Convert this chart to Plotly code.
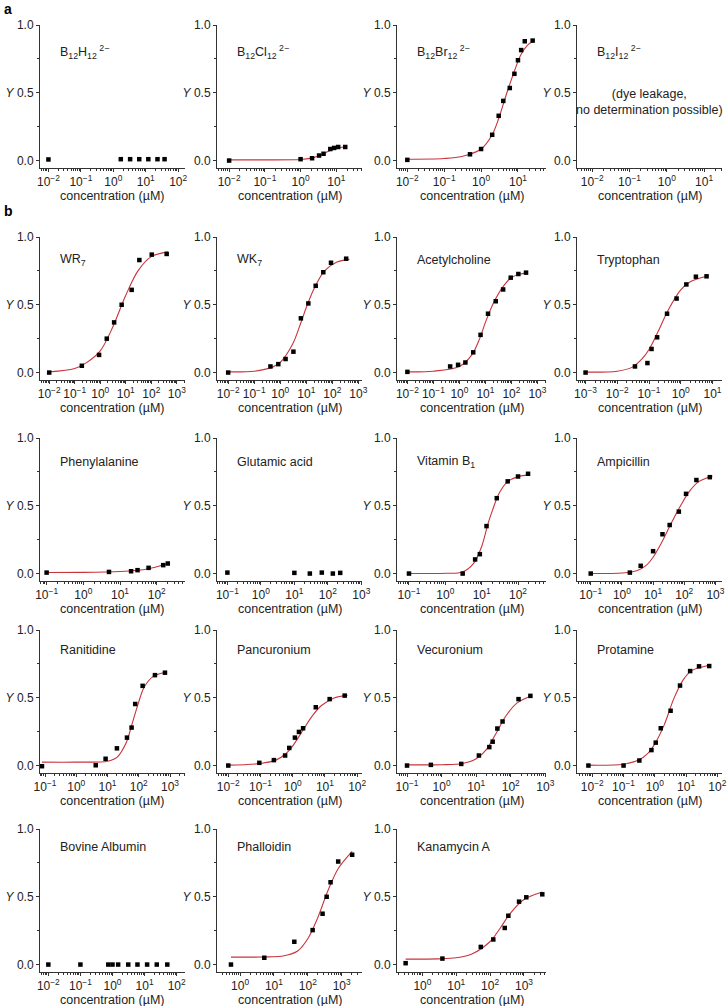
import plotly.graph_objects as go

# ---------------- data ----------------
b12h12_x = [0.01, 1.7, 3.3, 6.3, 12, 23, 38]
b12h12_y = [0.008, 0.01, 0.01, 0.01, 0.01, 0.01, 0.01]

b12cl12_x = [0.01, 1.0, 2.1, 3.3, 4.4, 6.8, 8.7, 11.3, 17.8]
b12cl12_y = [0.0, 0.01, 0.017, 0.037, 0.05, 0.085, 0.093, 0.10, 0.10]
b12cl12_fit_x = [0.01, 0.1, 1, 2, 3, 4, 6, 8, 12, 18]
b12cl12_fit_y = [0.005, 0.005, 0.008, 0.018, 0.032, 0.045, 0.068, 0.082, 0.095, 0.1]

b12br12_x = [0.01, 0.5, 1.0, 2.0, 3.0, 4.0, 6.0, 8.0, 10, 12.2, 15.3, 25]
b12br12_y = [0.005, 0.046, 0.085, 0.19, 0.33, 0.44, 0.535, 0.64, 0.74, 0.815, 0.88, 0.885]
b12br12_fit_x = [0.01, 0.1, 0.3, 1, 2, 3, 5, 8, 12, 18, 28]
b12br12_fit_y = [0.01, 0.015, 0.03, 0.085, 0.19, 0.31, 0.5, 0.66, 0.78, 0.85, 0.885]

wr7_x = [0.01, 0.19, 0.9, 1.8, 3.5, 6.9, 17, 34, 104, 400]
wr7_y = [0.0, 0.05, 0.13, 0.25, 0.37, 0.50, 0.61, 0.83, 0.87, 0.875]
wr7_fit_x = [0.01, 0.1, 0.3, 1, 3, 10, 30, 100, 450]
wr7_fit_y = [0.005, 0.03, 0.075, 0.16, 0.33, 0.57, 0.75, 0.855, 0.89]

wk7_x = [0.01, 0.42, 0.84, 1.6, 3.2, 6.2, 12, 23, 45, 89, 340]
wk7_y = [0.0, 0.045, 0.062, 0.10, 0.154, 0.40, 0.51, 0.64, 0.74, 0.81, 0.84]
wk7_fit_x = [0.01, 0.1, 0.5, 1, 3, 6, 10, 20, 50, 150, 450]
wk7_fit_y = [0.005, 0.01, 0.04, 0.075, 0.21, 0.36, 0.48, 0.62, 0.75, 0.815, 0.835]

ach_x = [0.01, 0.44, 0.89, 1.7, 3.4, 6.5, 12.6, 25, 48, 94, 185, 365]
ach_y = [0.005, 0.045, 0.057, 0.074, 0.149, 0.278, 0.434, 0.526, 0.613, 0.70, 0.727, 0.737]
ach_fit_x = [0.01, 0.1, 1, 3, 6, 10, 20, 50, 100, 200, 400]
ach_fit_y = [0.005, 0.01, 0.045, 0.13, 0.25, 0.37, 0.51, 0.64, 0.70, 0.725, 0.735]

trp_x = [0.001, 0.036, 0.089, 0.12, 0.18, 0.37, 0.74, 1.5, 3.0, 6.5]
trp_y = [0.0, 0.045, 0.07, 0.174, 0.26, 0.434, 0.546, 0.65, 0.707, 0.71]
trp_fit_x = [0.001, 0.01, 0.03, 0.06, 0.1, 0.2, 0.4, 1, 2, 6.5]
trp_fit_y = [0.003, 0.01, 0.04, 0.1, 0.17, 0.31, 0.46, 0.61, 0.67, 0.71]

phe_x = [0.1, 5, 20, 30, 60, 150, 200]
phe_y = [0.007, 0.012, 0.017, 0.025, 0.042, 0.062, 0.074]
phe_fit_x = [0.1, 1, 10, 30, 60, 100, 200]
phe_fit_y = [0.008, 0.009, 0.015, 0.024, 0.036, 0.05, 0.072]

glu_x = [0.1, 10, 29, 66, 141, 234]
glu_y = [0.007, 0.005, 0.0, 0.007, 0.0, 0.005]

vb1_x = [0.1, 3, 6.6, 8.9, 13.6, 26, 52, 100, 189]
vb1_y = [0.0, 0.0, 0.104, 0.143, 0.35, 0.556, 0.68, 0.716, 0.736]
vb1_fit_x = [0.1, 1, 3, 6, 10, 15, 20, 30, 50, 100, 200]
vb1_fit_y = [0.0, 0.002, 0.012, 0.075, 0.2, 0.37, 0.47, 0.59, 0.675, 0.715, 0.728]

amp_x = [0.1, 1.8, 4.0, 10, 20, 34, 67, 114, 245, 660]
amp_y = [0.0, 0.007, 0.057, 0.165, 0.29, 0.358, 0.457, 0.588, 0.69, 0.711]
amp_fit_x = [0.1, 1, 3, 6, 10, 20, 40, 80, 150, 300, 800]
amp_fit_y = [0.0, 0.004, 0.02, 0.06, 0.12, 0.24, 0.38, 0.51, 0.61, 0.68, 0.72]

ran_x = [0.08, 4.2, 8.7, 20, 42, 59, 77, 133, 330, 690]
ran_y = [-0.005, 0.002, 0.05, 0.127, 0.206, 0.28, 0.454, 0.588, 0.667, 0.685]
ran_fit_x = [0.08, 1, 10, 20, 40, 60, 100, 150, 300, 700]
ran_fit_y = [0.025, 0.025, 0.032, 0.06, 0.17, 0.3, 0.47, 0.58, 0.66, 0.687]

pan_x = [0.01, 0.092, 0.26, 0.58, 0.78, 1.17, 1.56, 2.1, 5.2, 14, 41]
pan_y = [0.0, 0.02, 0.04, 0.074, 0.13, 0.206, 0.248, 0.275, 0.43, 0.49, 0.516]
pan_fit_x = [0.01, 0.1, 0.3, 0.6, 1, 2, 4, 8, 20, 50]
pan_fit_y = [0.003, 0.015, 0.04, 0.085, 0.145, 0.255, 0.365, 0.445, 0.5, 0.518]

vec_x = [0.1, 0.49, 3.7, 12, 24, 30, 41, 58, 168, 370]
vec_y = [0.0, 0.005, 0.012, 0.074, 0.136, 0.176, 0.273, 0.325, 0.49, 0.514]
vec_fit_x = [0.1, 1, 4, 10, 20, 40, 70, 150, 400]
vec_fit_y = [0.005, 0.006, 0.015, 0.05, 0.12, 0.25, 0.36, 0.46, 0.515]

prot_x = [0.0075, 0.1, 0.32, 0.78, 1.07, 1.55, 3.2, 6.4, 13.5, 26, 55]
prot_y = [0.0, 0.0, 0.037, 0.114, 0.169, 0.275, 0.404, 0.59, 0.697, 0.732, 0.734]
prot_fit_x = [0.0075, 0.1, 0.3, 0.6, 1, 2, 4, 8, 15, 55]
prot_fit_y = [0.003, 0.01, 0.04, 0.09, 0.16, 0.3, 0.49, 0.63, 0.7, 0.74]

bsa_x = [0.01, 0.1, 0.74, 1.0, 1.5, 3.1, 6.0, 12, 24, 51]
bsa_y = [0.0, 0.0, 0.0, 0.0, 0.0, 0.0, 0.0, 0.0, 0.0, 0.0]

phal_x = [0.54, 5.2, 40, 139, 273, 360, 470, 790, 2040]
phal_y = [0.0, 0.05, 0.168, 0.254, 0.375, 0.50, 0.607, 0.76, 0.81]
phal_fit_x = [0.54, 5, 20, 50, 100, 200, 400, 800, 2040]
phal_fit_y = [0.055, 0.056, 0.065, 0.1, 0.19, 0.35, 0.55, 0.71, 0.835]

kan_x = [0.32, 3.9, 53, 124, 270, 345, 715, 1170, 3470]
kan_y = [0.01, 0.044, 0.13, 0.185, 0.27, 0.36, 0.464, 0.496, 0.518]
kan_fit_x = [0.32, 3, 10, 30, 100, 200, 400, 1000, 3500]
kan_fit_y = [0.04, 0.042, 0.05, 0.08, 0.17, 0.27, 0.38, 0.48, 0.535]

names = [
    "B<sub>12</sub>H<sub>12</sub><sup> 2−</sup>", "B<sub>12</sub>Cl<sub>12</sub><sup> 2−</sup>",
    "B<sub>12</sub>Br<sub>12</sub><sup> 2−</sup>", "B<sub>12</sub>I<sub>12</sub><sup> 2−</sup>",
    "WR<sub>7</sub>", "WK<sub>7</sub>", "Acetylcholine", "Tryptophan",
    "Phenylalanine", "Glutamic acid", "Vitamin B<sub>1</sub>", "Ampicillin",
    "Ranitidine", "Pancuronium", "Vecuronium", "Protamine",
    "Bovine Albumin", "Phalloidin", "Kanamycin A",
]
y_ticks = [0.0, 0.5, 1.0]
y_ticktext = ["0.0", "<i>Y</i> 0.5", "1.0"]
x_title = "concentration (µM)"
leak_note = "(dye leakage,<br>no determination possible)"

# ---------------- layout geometry ----------------
W, H = 727, 1006
col_px = [(40, 185), (217, 362), (397, 546), (577, 722)]
row_top = [25, 237, 438, 630, 829]
row_name_off = [27, 23, 24, 20, 18]
PH = 143
FONT = "Liberation Sans, Arial, sans-serif"
RED = "#c8343c"

# (name idx, row, col, points x, points y, fit x, fit y, xrange, exponents)
panels = [
    (0, 0, 0, b12h12_x, b12h12_y, None, None, [-2.26, 2.21], [-2, -1, 0, 1, 2]),
    (1, 0, 1, b12cl12_x, b12cl12_y, b12cl12_fit_x, b12cl12_fit_y, [-2.34, 1.72], [-2, -1, 0, 1]),
    (2, 0, 2, b12br12_x, b12br12_y, b12br12_fit_x, b12br12_fit_y, [-2.28, 1.76], [-2, -1, 0, 1]),
    (3, 0, 3, [], [], None, None, [-2.41, 1.48], [-2, -1, 0, 1]),
    (4, 1, 0, wr7_x, wr7_y, wr7_fit_x, wr7_fit_y, [-2.36, 3.32], [-2, -1, 0, 1, 2, 3]),
    (5, 1, 1, wk7_x, wk7_y, wk7_fit_x, wk7_fit_y, [-2.43, 3.14], [-2, -1, 0, 1, 2, 3]),
    (6, 1, 2, ach_x, ach_y, ach_fit_x, ach_fit_y, [-2.40, 3.33], [-2, -1, 0, 1, 2, 3]),
    (7, 1, 3, trp_x, trp_y, trp_fit_x, trp_fit_y, [-3.27, 1.30], [-3, -2, -1, 0, 1]),
    (8, 2, 0, phe_x, phe_y, phe_fit_x, phe_fit_y, [-1.18, 2.77], [-1, 0, 1, 2]),
    (9, 2, 1, glu_x, glu_y, None, None, [-1.31, 3.02], [-1, 0, 1, 2, 3]),
    (10, 2, 2, vb1_x, vb1_y, vb1_fit_x, vb1_fit_y, [-1.33, 2.77], [-1, 0, 1, 2]),
    (11, 2, 3, amp_x, amp_y, amp_fit_x, amp_fit_y, [-1.44, 3.21], [-1, 0, 1, 2, 3]),
    (12, 3, 0, ran_x, ran_y, ran_fit_x, ran_fit_y, [-1.16, 3.48], [-1, 0, 1, 2, 3]),
    (13, 3, 1, pan_x, pan_y, pan_fit_x, pan_fit_y, [-2.35, 2.15], [-2, -1, 0, 1, 2]),
    (14, 3, 2, vec_x, vec_y, vec_fit_x, vec_fit_y, [-1.29, 3.02], [-1, 0, 1, 2, 3]),
    (15, 3, 3, prot_x, prot_y, prot_fit_x, prot_fit_y, [-2.49, 2.15], [-2, -1, 0, 1, 2]),
    (16, 4, 0, bsa_x, bsa_y, None, None, [-2.26, 2.26], [-2, -1, 0, 1, 2]),
    (17, 4, 1, phal_x, phal_y, phal_fit_x, phal_fit_y, [-0.68, 3.6], [0, 1, 2, 3]),
    (18, 4, 2, kan_x, kan_y, kan_fit_x, kan_fit_y, [-0.75, 3.65], [0, 1, 2, 3]),
]


def exp_label(p):
    return "10<sup>" + ("−" if p < 0 else "") + str(abs(p)) + "</sup>"


fig = go.Figure()
layout = {}
annotations = []
axis_col = "#333333"
txt_col = "#222222"

for i, (ni, r, c, px, py, fx, fy, xr, exps) in enumerate(panels, start=1):
    sfx = "" if i == 1 else str(i)
    xa, ya = "x" + sfx, "y" + sfx
    x0, x1 = col_px[c]
    top = row_top[r]
    bot = top + PH
    xdom = [x0 / W, x1 / W]
    ydom = [1 - bot / H, 1 - top / H]

    if fx is not None:
        fig.add_trace(go.Scatter(x=fx, y=fy, mode="lines", xaxis=xa, yaxis=ya,
                                 line=dict(color=RED, width=1.1, shape="spline", smoothing=0.9),
                                 showlegend=False, hoverinfo="skip"))
    fig.add_trace(go.Scatter(x=px, y=py, mode="markers", xaxis=xa, yaxis=ya,
                             marker=dict(symbol="square", size=4.5, color="black"),
                             showlegend=False))

    layout["xaxis" + sfx] = dict(
        domain=xdom, anchor=ya, type="log", range=xr, automargin=False,
        tickvals=[10 ** e for e in exps], ticktext=[exp_label(e) for e in exps],
        tickangle=0,
        ticks="outside", ticklen=3, tickcolor=axis_col, tickwidth=1,
        minor=dict(ticks="outside", ticklen=2, tickcolor=axis_col, dtick="D1", showgrid=False),
        showline=True, linecolor=axis_col, linewidth=1, showgrid=False, zeroline=False,
        tickfont=dict(size=12, color=txt_col, family=FONT),
    )
    layout["yaxis" + sfx] = dict(
        domain=ydom, anchor=xa, range=[-0.055, 1.0], automargin=False,
        tickvals=y_ticks, ticktext=y_ticktext,
        ticks="outside", ticklen=3, tickcolor=axis_col,
        minor=dict(ticks="outside", ticklen=2, tickcolor=axis_col, tickvals=[0.25, 0.75], showgrid=False),
        showline=True, linecolor=axis_col, linewidth=1, showgrid=False, zeroline=False,
        tickfont=dict(size=12, color=txt_col, family=FONT),
    )
    annotations.append(dict(
        text=names[ni], xref="paper", yref="paper",
        x=(x0 + 18) / W, y=1 - (top + row_name_off[r]) / H,
        xanchor="left", yanchor="middle", showarrow=False,
        font=dict(size=12.5, color=txt_col, family=FONT),
    ))
    # x-axis title, placed just under the tick labels
    annotations.append(dict(
        text=x_title, xref="paper", yref="paper",
        x=(x0 + x1) / 2 / W, y=1 - (bot + 28) / H,
        xanchor="center", yanchor="middle", showarrow=False,
        font=dict(size=12.5, color=txt_col, family=FONT),
    ))

annotations.append(dict(text=leak_note, xref="paper", yref="paper",
                        x=649 / W, y=1 - 102 / H, xanchor="center", yanchor="middle",
                        showarrow=False, align="center",
                        font=dict(size=12.5, color=txt_col, family=FONT)))
annotations.append(dict(text="<b>a</b>", xref="paper", yref="paper", x=2 / W, y=1 - 9 / H,
                        xanchor="left", yanchor="middle", showarrow=False,
                        font=dict(size=14, color="black", family=FONT)))
annotations.append(dict(text="<b>b</b>", xref="paper", yref="paper", x=2 / W, y=1 - 211 / H,
                        xanchor="left", yanchor="middle", showarrow=False,
                        font=dict(size=14, color="black", family=FONT)))

fig.update_layout(
    width=W, height=H, margin=dict(l=0, r=0, t=0, b=0, autoexpand=False),
    paper_bgcolor="white", plot_bgcolor="white",
    font=dict(family=FONT, color=txt_col),
    annotations=annotations, showlegend=False,
    **layout,
)

fig.write_html(
    "out.html",
    config={"displayModeBar": False},
    post_script="document.body.style.margin='0';document.body.style.overflow='hidden';",
)
